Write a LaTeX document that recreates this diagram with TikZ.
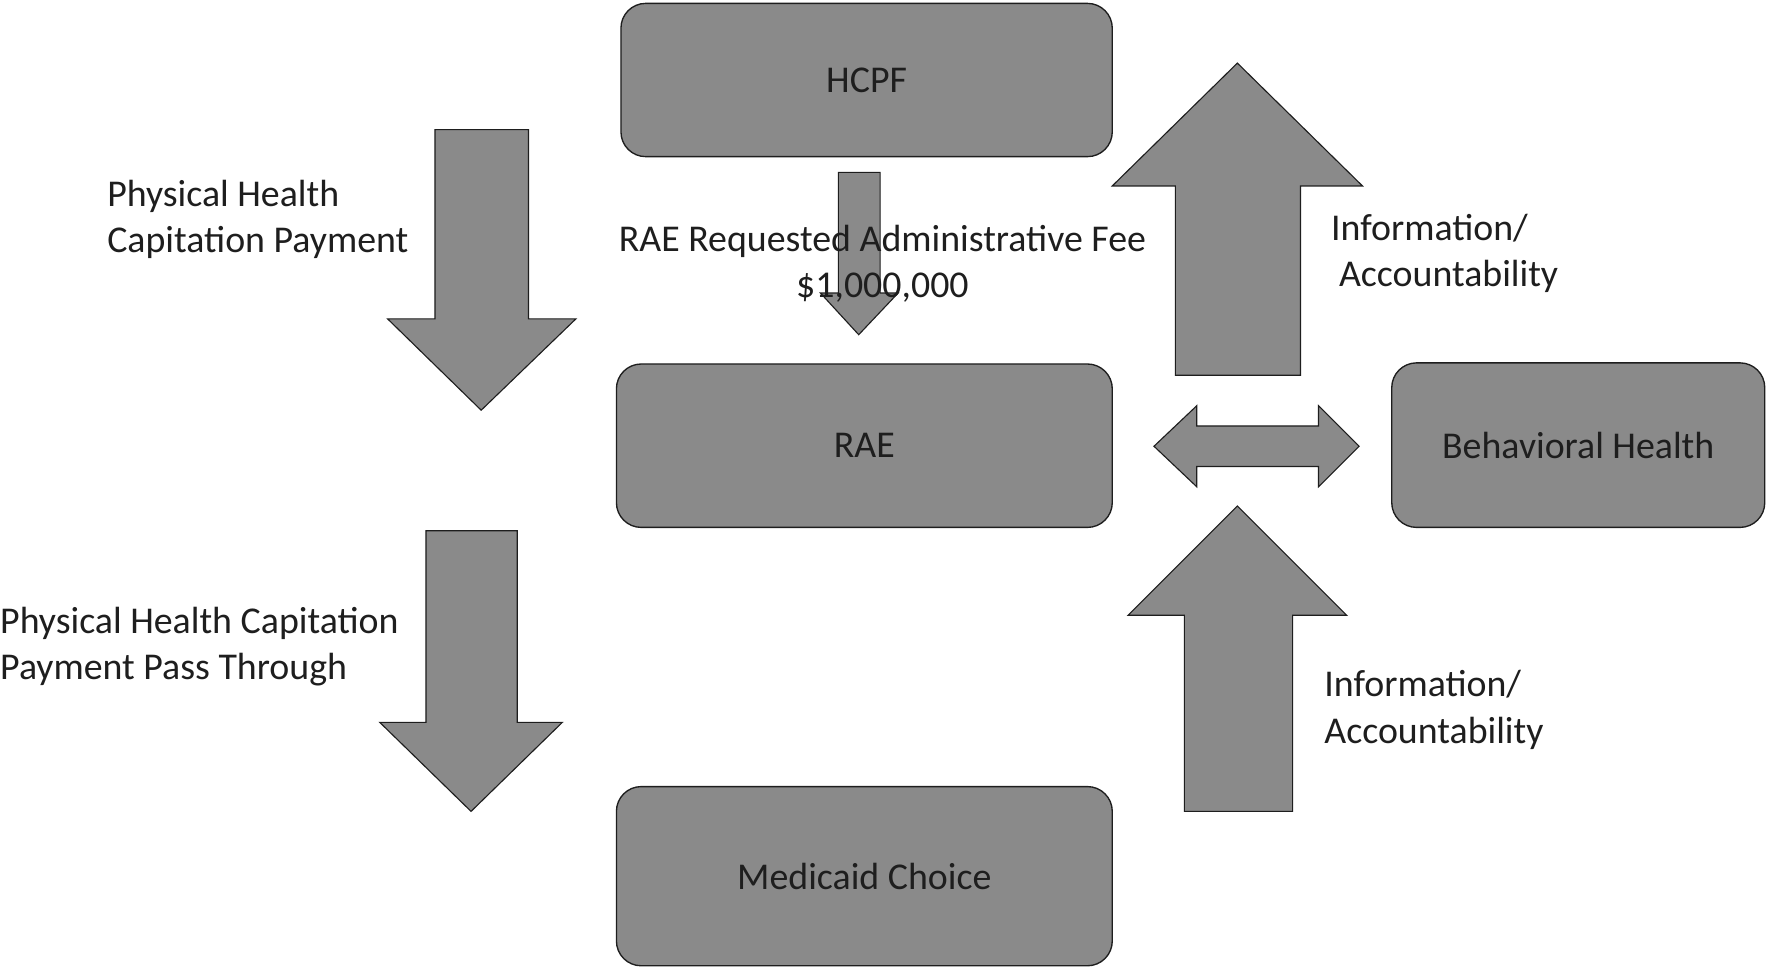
\documentclass[tikz,border=0pt]{standalone}
\usepackage{fontspec}
\setmainfont{Carlito}
\usetikzlibrary{positioning}

\definecolor{boxgray}{RGB}{138,138,138}
\definecolor{inkgray}{RGB}{30,30,30}

\tikzset{
  box/.style={draw=inkgray, fill=boxgray, rounded corners=22pt, line width=1.2pt,
    minimum width=440pt, minimum height=145pt, text=inkgray,
    font=\fontsize{33.6}{41}\selectfont},
  blockarrow/.style={draw=inkgray, fill=boxgray, line width=1pt},
  note/.style={inner sep=0pt, text=inkgray, font=\fontsize{33.6}{41}\selectfont}
}

\begin{document}
\begin{tikzpicture}[x=1pt,y=-1pt]
    \useasboundingbox (0,0) rectangle (1568,859);

    % boxes
    \node [box, minimum width=436pt, minimum height=136pt] (hcpf) at (769,71) {HCPF};
    \node [box] (rae) at (767,395.5) {RAE};
    \node [box, minimum height=159pt] (medicaid) at (767,777.5) {Medicaid Choice};
    \node [box, minimum width=331pt, minimum height=146pt] (behavioral) at (1400.5,395) {Behavioral Health};

    % block arrows
    \draw [blockarrow] (386,115) -- (469,115) -- (469,283) -- (511,283)
        -- (427,364) -- (344,283) -- (386,283) -- cycle;
    \draw [blockarrow] (378,471) -- (459,471) -- (459,641) -- (499,641)
        -- (418,720) -- (337,641) -- (378,641) -- cycle;
    \draw [blockarrow] (744,153) -- (781,153) -- (781,260) -- (797,260)
        -- (762,297) -- (728,260) -- (744,260) -- cycle;
    \draw [blockarrow] (1043,333) -- (1154,333) -- (1154,165) -- (1209,165)
        -- (1098,56) -- (987,165) -- (1043,165) -- cycle;
    \draw [blockarrow] (1051,720) -- (1147,720) -- (1147,546) -- (1195,546)
        -- (1098,449) -- (1001,546) -- (1051,546) -- cycle;
    \draw [blockarrow] (1024,396) -- (1062,360) -- (1062,378) -- (1170,378)
        -- (1170,360) -- (1206,396) -- (1170,432) -- (1170,414) -- (1062,414)
        -- (1062,432) -- cycle;

    % texts
    \node [note, anchor=west, align=left] (payment) at (95,195)
        {Physical Health\\Capitation Payment};
    \node [note, align=center] (fee) at (783,234)
        {RAE Requested Administrative Fee\\\$1,000,000};
    \node [note, anchor=west, align=left] (infotop) at (1181,225)
        {Information/\\\hspace*{7pt}Accountability};
    \node [note, anchor=west, align=left] (infobottom) at (1175,630)
        {Information/\\Accountability};
    \node [note, anchor=west, align=left] (passthrough) at (0,574)
        {Physical Health Capitation\\Payment Pass Through};
\end{tikzpicture}
\end{document}
